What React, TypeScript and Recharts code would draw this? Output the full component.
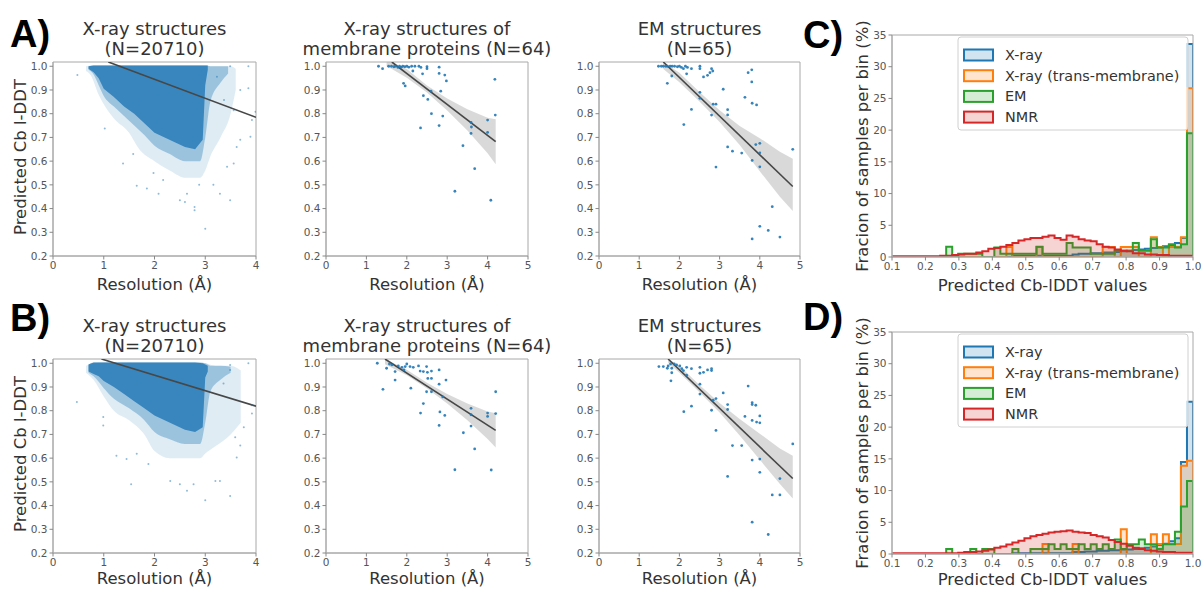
import React from 'react';
import { ComposedChart, Scatter, Line, Area, XAxis, YAxis, ReferenceArea } from 'recharts';

const FONT = '"DejaVu Sans", Verdana, sans-serif';
const BLUE = '#1f77b4';
const ORANGE = '#ff7f0e';
const GREEN = '#2ca02c';
const RED = '#d62728';
const TEXT = '#333';

// ---------- axis ticks ----------
const resTicks4 = [0, 1, 2, 3, 4];
const resTicks5 = [0, 1, 2, 3, 4, 5];
const lddtTicks = [0.2, 0.3, 0.4, 0.5, 0.6, 0.7, 0.8, 0.9, 1.0];
const histXTicks = [0.1, 0.2, 0.3, 0.4, 0.5, 0.6, 0.7, 0.8, 0.9, 1.0];
const histYTicks = [0, 5, 10, 15, 20, 25, 30, 35];

// ---------- X-ray (N=20710): dense cloud outlines [x, low, high] + sparse outliers ----------
const xrayCoreA = [
  [0.7, 0.99, 1.0], [0.8, 0.975, 1.003], [0.9, 0.95, 1.003], [1.0, 0.905, 1.003], [1.2, 0.87, 1.003],
  [1.4, 0.83, 1.003], [1.6, 0.8, 1.003], [1.8, 0.76, 1.003], [2.0, 0.72, 1.003], [2.2, 0.7, 1.003],
  [2.4, 0.68, 1.003], [2.6, 0.66, 1.003], [2.8, 0.65, 1.003], [2.95, 0.69, 1.003], [3.0, 0.92, 1.003],
  [3.05, 0.985, 1.003],
];
const xrayMidA = [
  [0.7, 0.985, 1.0], [0.8, 0.965, 1.003], [0.9, 0.92, 1.003], [1.0, 0.875, 1.003], [1.2, 0.83, 1.003],
  [1.4, 0.79, 1.003], [1.6, 0.75, 1.003], [1.8, 0.71, 1.003], [2.0, 0.665, 1.003], [2.3, 0.63, 1.003],
  [2.6, 0.6, 1.003], [2.9, 0.6, 1.003], [3.0, 0.7, 1.003], [3.1, 0.85, 1.0], [3.3, 0.93, 1.0], [3.45, 0.97, 1.0],
];
const xrayFringeA = [
  [0.65, 0.98, 1.0], [0.75, 0.96, 1.003], [0.9, 0.88, 1.003], [1.0, 0.84, 1.003], [1.2, 0.78, 1.003],
  [1.5, 0.72, 1.003], [1.7, 0.65, 1.003], [2.0, 0.6, 1.003], [2.3, 0.56, 1.003], [2.6, 0.53, 1.003],
  [2.9, 0.53, 1.003], [3.0, 0.56, 1.003], [3.1, 0.62, 1.0], [3.3, 0.7, 1.0], [3.5, 0.8, 1.0], [3.6, 0.9, 0.99],
];
const xrayOutliersA = [
  [0.48, 0.963], [1.02, 0.738], [1.38, 0.59], [1.58, 0.63], [1.65, 0.496], [1.85, 0.485], [1.98, 0.55],
  [2.08, 0.463], [2.17, 0.52], [2.5, 0.435], [2.6, 0.428], [2.79, 0.393], [2.79, 0.407], [3.0, 0.315],
  [2.88, 0.5], [2.64, 0.463], [3.16, 0.5], [3.29, 0.463], [3.49, 0.435], [3.43, 0.576], [3.56, 0.59],
  [3.62, 0.66], [3.69, 0.69], [3.69, 0.9], [3.85, 0.907], [3.85, 1.0], [3.49, 1.0], [3.92, 0.773],
  [3.89, 0.703], [3.99, 0.808], [3.37, 0.858], [3.23, 0.956], [3.56, 0.815],
];
const xrayFitA = [[1.09, 1.018], [4.0, 0.785]];

const xrayCoreB = [
  [0.7, 0.965, 0.995], [0.8, 0.955, 1.003], [0.9, 0.945, 1.003], [1.0, 0.925, 1.003], [1.2, 0.9, 1.003],
  [1.4, 0.87, 1.003], [1.6, 0.84, 1.003], [1.8, 0.81, 1.003], [2.0, 0.78, 1.003], [2.2, 0.76, 1.003],
  [2.4, 0.74, 1.003], [2.6, 0.72, 1.003], [2.8, 0.71, 1.003], [2.95, 0.73, 1.0], [3.0, 0.94, 0.995],
  [3.05, 0.965, 0.99],
];
const xrayMidB = [
  [0.7, 0.96, 0.995], [0.8, 0.945, 1.003], [1.0, 0.895, 1.003], [1.2, 0.85, 1.003], [1.5, 0.81, 1.003],
  [1.8, 0.76, 1.003], [2.0, 0.71, 1.003], [2.3, 0.68, 1.003], [2.6, 0.66, 1.003], [2.9, 0.66, 1.003],
  [3.0, 0.75, 1.0], [3.1, 0.88, 0.99], [3.3, 0.93, 0.99], [3.5, 0.96, 0.985],
];
const xrayFringeB = [
  [0.65, 0.96, 0.99], [0.8, 0.93, 1.0], [1.0, 0.86, 1.003], [1.2, 0.8, 1.003], [1.5, 0.76, 1.003],
  [1.8, 0.7, 1.003], [2.0, 0.63, 1.003], [2.3, 0.6, 1.003], [2.6, 0.6, 1.003], [2.9, 0.6, 1.003],
  [3.0, 0.62, 1.0], [3.2, 0.65, 0.99], [3.5, 0.7, 0.99], [3.7, 0.75, 0.97],
];
const xrayOutliersB = [
  [0.47, 0.837], [0.99, 0.773], [0.99, 0.738], [1.25, 0.61], [1.54, 0.49], [1.45, 0.596], [1.65, 0.618],
  [1.88, 0.575], [2.31, 0.504], [2.5, 0.49], [2.64, 0.462], [2.77, 0.49], [3.0, 0.422], [3.2, 0.504],
  [3.29, 0.504], [3.49, 0.44], [3.49, 0.972], [3.49, 0.993], [3.85, 1.0], [3.92, 0.823], [3.92, 0.788],
  [3.59, 0.688], [3.69, 0.653], [3.62, 0.603], [3.36, 0.915], [3.76, 0.73],
];
const xrayFitB = [[0.955, 1.018], [4.0, 0.819]];

// ---------- X-ray membrane proteins (N=64) ----------
const memPointsA = [
  [1.3, 1.0], [1.4, 0.99], [1.55, 1.0], [1.62, 1.0], [1.68, 0.998], [1.72, 1.0], [1.78, 0.995], [1.82, 1.0],
  [1.86, 0.996], [1.9, 1.0], [1.95, 0.998], [2.0, 1.0], [2.05, 0.996], [2.12, 1.0], [2.2, 1.0], [2.3, 1.0],
  [2.35, 0.995], [2.5, 0.998], [2.5, 0.99], [2.8, 0.996], [2.8, 0.97], [2.94, 0.963], [2.98, 0.938],
  [2.39, 0.968], [2.15, 0.98], [1.92, 0.928], [1.96, 0.917], [2.52, 0.86], [2.41, 0.876], [2.6, 0.895],
  [2.84, 0.895], [2.61, 0.8], [2.89, 0.79], [2.34, 0.74], [2.8, 0.75], [3.59, 0.763], [3.6, 0.744],
  [3.59, 0.717], [4.0, 0.773], [4.0, 0.721], [4.18, 0.945], [4.19, 0.794], [3.39, 0.665], [3.68, 0.568],
  [3.19, 0.473], [4.08, 0.435],
];
const memFitA = [[1.63, 1.018], [4.2, 0.682]];
const memCiXA = [1.5, 1.63, 2.0, 2.5, 3.0, 3.5, 4.0, 4.2];
const memCiLoA = [1.0, 0.988, 0.952, 0.889, 0.814, 0.729, 0.633, 0.587];
const memCiHiA = [1.018, 1.018, 0.988, 0.919, 0.864, 0.819, 0.783, 0.777];

const memPointsB = [
  [1.27, 1.0], [1.41, 0.89], [1.5, 0.979], [1.57, 0.997], [1.63, 0.993], [1.71, 0.929], [1.71, 0.965],
  [1.79, 0.989], [1.88, 0.983], [1.93, 0.972], [1.96, 0.986], [2.0, 0.997], [2.08, 0.986], [2.1, 0.895],
  [2.16, 0.983], [2.29, 0.989], [2.33, 0.967], [2.41, 0.965], [2.49, 0.986], [2.51, 0.962], [2.52, 0.936],
  [2.61, 0.936], [2.61, 0.967], [2.49, 0.88], [2.61, 0.88], [2.8, 0.972], [2.8, 0.912], [2.97, 0.929],
  [2.89, 0.858], [2.82, 0.795], [2.94, 0.78], [2.41, 0.83], [2.34, 0.79], [2.8, 0.738], [3.4, 0.707],
  [3.59, 0.81], [3.59, 0.783], [3.59, 0.735], [3.68, 0.639], [4.0, 0.79], [4.0, 0.776], [4.2, 0.88],
  [4.2, 0.788], [3.19, 0.551], [4.09, 0.55],
];
const memFitB = [[1.46, 1.018], [4.2, 0.717]];
const memCiXB = [1.46, 2.0, 2.5, 3.0, 3.5, 4.0, 4.2];
const memCiLoB = [0.996, 0.949, 0.894, 0.83, 0.76, 0.681, 0.645];
const memCiHiB = [1.018, 0.973, 0.918, 0.87, 0.83, 0.797, 0.789];

// ---------- EM structures (N=65) ----------
const emPointsA = [
  [1.48, 1.0], [1.55, 1.0], [1.6, 1.0], [1.66, 1.0], [1.7, 1.0], [1.77, 1.0], [1.82, 1.0], [1.88, 1.0],
  [1.95, 0.998], [2.0, 1.0], [2.05, 0.995], [2.1, 0.99], [2.15, 1.0], [2.2, 0.995], [2.3, 0.99],
  [1.7, 0.928], [1.81, 0.959], [2.18, 0.968], [2.51, 1.0], [2.51, 0.99], [2.6, 0.955], [2.7, 0.962],
  [2.76, 0.973], [2.8, 0.99], [2.83, 0.98], [2.51, 0.89], [2.51, 0.865], [2.3, 0.818], [2.11, 0.754],
  [2.8, 0.794], [2.84, 0.84], [2.91, 0.84], [3.09, 0.903], [3.2, 0.817], [3.2, 0.795], [3.2, 0.66],
  [3.32, 0.642], [3.55, 0.634], [2.91, 0.575], [3.63, 0.869], [3.71, 0.973], [3.8, 0.985], [3.8, 0.934],
  [3.81, 0.844], [3.92, 0.837], [3.9, 0.67], [4.0, 0.675], [4.0, 0.635], [3.81, 0.603], [4.0, 0.576],
  [4.0, 0.325], [3.81, 0.272], [4.21, 0.308], [4.31, 0.408], [4.5, 0.28], [4.82, 0.65],
];
const emFitA = [[1.6, 1.018], [4.82, 0.493]];
const emCiXA = [1.6, 2.0, 2.5, 3.0, 3.5, 4.0, 4.5, 4.82];
const emCiLoA = [0.988, 0.933, 0.851, 0.765, 0.668, 0.557, 0.45, 0.39];
const emCiHiA = [1.018, 0.973, 0.891, 0.815, 0.748, 0.697, 0.64, 0.61];

const emPointsB = [
  [1.49, 0.986], [1.6, 0.986], [1.7, 0.979], [1.72, 0.989], [1.78, 0.997], [1.81, 0.979], [1.81, 0.96],
  [1.79, 0.926], [1.87, 0.997], [1.93, 0.993], [2.01, 0.989], [2.06, 0.977], [2.1, 0.969], [2.18, 0.983],
  [2.18, 0.95], [2.3, 0.977], [2.51, 0.983], [2.51, 0.958], [2.6, 0.962], [2.7, 0.972], [2.8, 0.977],
  [2.8, 0.969], [2.51, 0.912], [2.51, 0.87], [2.3, 0.819], [2.11, 0.796], [2.8, 0.802], [2.84, 0.844],
  [2.91, 0.851], [2.91, 0.717], [3.09, 0.875], [3.2, 0.826], [3.2, 0.805], [3.32, 0.653], [3.55, 0.653],
  [3.63, 0.776], [3.2, 0.523], [3.71, 0.904], [3.81, 0.834], [3.81, 0.826], [3.9, 0.823], [3.81, 0.759],
  [3.92, 0.752], [4.0, 0.778], [4.0, 0.749], [3.81, 0.592], [4.0, 0.596], [4.0, 0.54], [3.81, 0.33],
  [4.21, 0.278], [4.31, 0.445], [4.5, 0.445], [4.5, 0.514], [4.82, 0.66],
];
const emFitB = [[1.72, 1.018], [4.82, 0.514]];
const emCiXB = [1.72, 2.0, 2.5, 3.0, 3.5, 4.0, 4.5, 4.82];
const emCiLoB = [1.001, 0.96, 0.878, 0.792, 0.695, 0.593, 0.491, 0.43];
const emCiHiB = [1.018, 0.99, 0.908, 0.832, 0.765, 0.703, 0.641, 0.61];

// ---------- histograms: bin left edges and % per bin ----------
const binEdges = [
  0.1, 0.118, 0.136, 0.154, 0.172, 0.19, 0.208, 0.226, 0.244, 0.262,
  0.28, 0.298, 0.316, 0.334, 0.352, 0.37, 0.388, 0.406, 0.424, 0.442,
  0.46, 0.478, 0.496, 0.514, 0.532, 0.55, 0.568, 0.586, 0.604, 0.622,
  0.64, 0.658, 0.676, 0.694, 0.712, 0.73, 0.748, 0.766, 0.784, 0.802,
  0.82, 0.838, 0.856, 0.874, 0.892, 0.91, 0.928, 0.946, 0.964, 0.982,
];

const histC_xray = [
  0, 0, 0, 0, 0, 0, 0, 0, 0, 0,
  0, 0, 0, 0, 0, 0, 0, 0, 0, 0,
  0.2, 0.2, 0.2, 0.2, 0.2, 0.2, 0.2, 0.2, 0.2, 0.2,
  0.4, 0.5, 0.5, 0.6, 0.6, 0.7, 0.7, 0.8, 0.9, 1.0,
  1.1, 1.2, 1.3, 1.4, 1.5, 1.7, 1.9, 2.2, 3.0, 33.6,
];
const histC_tm = [
  0, 0, 0, 0, 0, 0, 0, 0, 0, 0,
  0, 0, 0, 0, 0, 0, 0, 0, 0, 1.56,
  0, 0, 0, 0, 1.56, 0, 0, 0, 0, 0,
  0, 0, 0, 0, 0, 1.56, 1.56, 0, 1.56, 1.56,
  1.56, 0, 0, 3.1, 1.56, 0, 1.56, 1.56, 3.1, 26.6,
];
const histC_em = [
  0, 0, 0, 0, 0, 0, 0, 0, 0, 1.6,
  0, 0.5, 0.5, 0.5, 0.5, 0, 0, 1.5, 0.5, 0.5,
  0.5, 0.5, 0.5, 0.5, 1.6, 0.5, 0.5, 0.5, 0.5, 2.2,
  1.5, 1.5, 1.5, 0.5, 0.5, 0.5, 0.5, 1.0, 1.0, 1.0,
  2.2, 1.0, 1.0, 2.8, 1.5, 1.5, 2.0, 1.5, 2.0, 19.5,
];
const histC_nmr = [
  0.1, 0.1, 0.1, 0.1, 0.1, 0.1, 0.1, 0.1, 0.2, 0.2,
  0.3, 0.4, 0.5, 0.5, 0.7, 0.9, 1.3, 1.4, 1.6, 1.9,
  2.2, 2.6, 2.8, 3.0, 3.0, 3.2, 3.4, 3.0, 2.7, 3.4,
  3.2, 2.8, 2.6, 2.5, 2.0, 1.6, 1.5, 1.2, 1.0, 0.9,
  0.6, 0.6, 0.4, 0.4, 0.3, 0.3, 0.2, 0.2, 0.2, 0.2,
];

const histD_xray = [
  0, 0, 0, 0, 0, 0, 0, 0, 0, 0,
  0, 0, 0, 0, 0, 0, 0, 0, 0, 0,
  0.1, 0.1, 0.1, 0.1, 0.1, 0.1, 0.1, 0.1, 0.1, 0.1,
  0.3, 0.3, 0.4, 0.4, 0.5, 0.5, 0.6, 0.6, 0.7, 0.7,
  0.8, 0.9, 1.0, 1.2, 1.4, 1.6, 2.0, 2.5, 14.5, 24.0,
];
const histD_tm = [
  0, 0, 0, 0, 0, 0, 0, 0, 0, 0,
  0, 0, 0, 0, 0, 0, 0, 0, 0, 0,
  0, 0, 0, 0, 0, 1.56, 0, 0, 0, 0,
  1.56, 0, 0, 0, 0, 0, 0, 0, 3.9, 0,
  0, 0, 0, 3.1, 1.56, 3.1, 1.56, 1.56, 13.9, 14.7,
];
const histD_em = [
  0, 0, 0, 0, 0, 0, 0, 0, 0, 0.77,
  0, 0, 0, 0.77, 0, 0.77, 0.77, 0, 0, 0,
  0.77, 0, 0, 0.77, 0.77, 0.77, 1.54, 0.77, 1.54, 0.77,
  0.77, 1.54, 0.77, 1.54, 0.77, 1.54, 0.77, 2.3, 0.77, 1.54,
  1.54, 2.3, 1.54, 1.54, 0.77, 1.54, 1.54, 3.5, 7.5, 11.5,
];
const histD_nmr = [
  0.1, 0.1, 0.1, 0.1, 0.1, 0.1, 0.1, 0.1, 0.1, 0.1,
  0.1, 0.2, 0.3, 0.3, 0.4, 0.5, 0.7, 1.0, 1.2, 1.5,
  1.8, 2.1, 2.5, 2.8, 3.0, 3.2, 3.4, 3.5, 3.6, 3.7,
  3.5, 3.4, 3.3, 3.0, 2.8, 2.6, 2.2, 1.9, 1.6, 1.3,
  1.0, 0.8, 0.6, 0.5, 0.4, 0.3, 0.3, 0.2, 0.2, 0.2,
];

const legendItems = [
  { label: 'X-ray', color: BLUE },
  { label: 'X-ray (trans-membrane)', color: ORANGE },
  { label: 'EM', color: GREEN },
  { label: 'NMR', color: RED },
];

// ---------- layout ----------
const ROW = 297;
const tickStyle = { fontSize: 10.5, fill: '#555', fontFamily: FONT };

type Box = { L: number; T: number; R: number; B: number };

const pairRows = (arr: number[][]) => arr.map(([x, y]) => ({ x, y }));
const rangeRows = (arr: number[][], key: string) => arr.map(([x, lo, hi]) => ({ x, [key]: [lo, hi] }));

function ScatterPanel(props: {
  box: Box;
  xMax: number;
  xTicks: number[];
  points: number[][];
  fit: number[][];
  dotR: number;
  dotOpacity: number;
  core?: number[][];
  mid?: number[][];
  fringe?: number[][];
  ciX?: number[];
  ciLo?: number[];
  ciHi?: number[];
}) {
  const { box, xMax, xTicks, points, fit, dotR, dotOpacity, core, mid, fringe, ciX, ciLo, ciHi } = props;
  const bandRows = ciX ? ciX.map((x, i) => ({ x, band: [ciLo![i], ciHi![i]] })) : null;
  const dot = (p: any) => <circle cx={p.cx} cy={p.cy} r={dotR} fill={BLUE} fillOpacity={dotOpacity} />;
  return (
    <div style={{ position: 'absolute', left: box.L - 50, top: box.T - 6 }}>
      <ComposedChart width={box.R - box.L + 60} height={box.B - box.T + 36} margin={{ top: 6, right: 10, left: 0, bottom: 0 }}>
        <XAxis type="number" dataKey="x" domain={[0, xMax]} ticks={xTicks} interval={0} allowDataOverflow
          height={30} tickSize={3.5} tick={tickStyle} tickLine={{ stroke: '#888' }} axisLine={{ stroke: '#a8a8a8' }} />
        <YAxis type="number" dataKey="y" domain={[0.2, 1.018]} ticks={lddtTicks} interval={0} allowDataOverflow
          width={50} tickSize={3.5} tick={tickStyle} tickFormatter={(v: number) => v.toFixed(1)}
          tickLine={{ stroke: '#888' }} axisLine={{ stroke: '#a8a8a8' }} />
        {fringe && (
          <Area data={rangeRows(fringe, 'fringe')} dataKey="fringe" type="monotone" stroke="none"
            fill={BLUE} fillOpacity={0.14} isAnimationActive={false} />
        )}
        {mid && (
          <Area data={rangeRows(mid, 'mid')} dataKey="mid" type="monotone" stroke="none"
            fill={BLUE} fillOpacity={0.35} isAnimationActive={false} />
        )}
        {core && (
          <Area data={rangeRows(core, 'core')} dataKey="core" type="linear" stroke="none"
            fill={BLUE} fillOpacity={0.8} isAnimationActive={false} />
        )}
        {bandRows && (
          <Area data={bandRows} dataKey="band" type="linear" stroke="none"
            fill="#c4c4c4" fillOpacity={0.65} isAnimationActive={false} />
        )}
        <Scatter data={pairRows(points)} dataKey="y" shape={dot} isAnimationActive={false} />
        <Line data={pairRows(fit)} dataKey="y" type="linear" stroke="#474747" strokeWidth={1.6}
          dot={false} isAnimationActive={false} />
        <ReferenceArea x1={0} x2={xMax} y1={0.2} y2={1.018} fill="none" stroke="#a8a8a8" ifOverflow="visible" />
      </ComposedChart>
    </div>
  );
}

function HistPanel(props: { box: Box; xray: number[]; tm: number[]; em: number[]; nmr: number[] }) {
  const { box, xray, tm, em, nmr } = props;
  const rows = binEdges
    .map((x, i) => ({ x, xray: xray[i], tm: tm[i], em: em[i], nmr: nmr[i] }))
    .concat([{ x: 1.0, xray: 0, tm: 0, em: 0, nmr: 0 }]);
  const series = [
    { key: 'xray', color: BLUE },
    { key: 'tm', color: ORANGE },
    { key: 'em', color: GREEN },
    { key: 'nmr', color: RED },
  ];
  return (
    <div style={{ position: 'absolute', left: box.L - 50, top: box.T - 6 }}>
      <ComposedChart width={box.R - box.L + 60} height={box.B - box.T + 36} data={rows}
        margin={{ top: 6, right: 10, left: 0, bottom: 0 }}>
        <XAxis type="number" dataKey="x" domain={[0.1, 1.0]} ticks={histXTicks} interval={0} allowDataOverflow
          height={30} tickSize={3.5} tick={tickStyle} tickFormatter={(v: number) => v.toFixed(1)}
          tickLine={{ stroke: '#888' }} axisLine={{ stroke: '#a8a8a8' }} />
        <YAxis type="number" domain={[0, 35]} ticks={histYTicks} interval={0} allowDataOverflow
          width={50} tickSize={3.5} tick={tickStyle} tickLine={{ stroke: '#888' }} axisLine={{ stroke: '#a8a8a8' }} />
        {series.map((s) => (
          <Area key={s.key} dataKey={s.key} type="stepAfter" stroke={s.color} strokeWidth={2}
            fill={s.color} fillOpacity={0.2} isAnimationActive={false} />
        ))}
        <ReferenceArea x1={0.1} x2={1.0} y1={0} y2={35} fill="none" stroke="#a8a8a8" ifOverflow="visible" />
      </ComposedChart>
    </div>
  );
}

const scatterBoxes: Box[] = [
  { L: 53, T: 62, R: 256, B: 256 },
  { L: 326, T: 62, R: 528, B: 256 },
  { L: 599, T: 62, R: 800, B: 256 },
];
const histBox: Box = { L: 892, T: 35, R: 1193, B: 257 };
const down = (b: Box): Box => ({ L: b.L, R: b.R, T: b.T + ROW, B: b.B + ROW });
const centre = (b: Box) => (b.L + b.R) / 2;

function Legend({ dy }: { dy: number }) {
  return (
    <g>
      <rect x={958} y={37 + dy} width={230} height={93} rx={3} fill="#fff" fillOpacity={0.8} stroke="#d0d0d0" />
      {legendItems.map((it, i) => {
        const cy = 55 + dy + i * 20.7;
        return (
          <g key={it.label}>
            <rect x={964} y={cy - 5.5} width={29} height={11} fill={it.color} fillOpacity={0.2} stroke={it.color} strokeWidth={2} />
            <text x={1005} y={cy + 5} fontSize={14.4} fill={TEXT} fontFamily={FONT}>{it.label}</text>
          </g>
        );
      })}
    </g>
  );
}

function Labels() {
  const titles = [
    ['X-ray structures', '(N=20710)'],
    ['X-ray structures of', 'membrane proteins (N=64)'],
    ['EM structures', '(N=65)'],
  ];
  const txt = { fill: TEXT, fontFamily: FONT } as const;
  const letter = { fontFamily: '"Liberation Sans", Arial, sans-serif', fontWeight: 700, fontSize: 38, fill: '#000' } as const;
  return (
    <svg width={1202} height={589} style={{ position: 'absolute', left: 0, top: 0, pointerEvents: 'none' }}>
      {[0, ROW].map((dy) => (
        <g key={dy}>
          {scatterBoxes.map((b, i) => (
            <g key={i}>
              <text x={centre(b)} y={35 + dy} textAnchor="middle" fontSize={18} {...txt}>{titles[i][0]}</text>
              <text x={centre(b)} y={55 + dy} textAnchor="middle" fontSize={18} {...txt}>{titles[i][1]}</text>
              <text x={centre(b)} y={(dy ? 287 : 290) + dy} textAnchor="middle" fontSize={16.5} {...txt}>Resolution (Å)</text>
            </g>
          ))}
          <text transform={`translate(26,${157 + dy}) rotate(-90)`} textAnchor="middle" fontSize={16.5} {...txt}>
            Predicted Cb l-DDT
          </text>
          <text x={centre(histBox)} y={(dy ? 288 : 291) + dy} textAnchor="middle" fontSize={16.5} {...txt}>
            Predicted Cb-lDDT values
          </text>
          <text transform={`translate(868,${146 + dy}) rotate(-90)`} textAnchor="middle" fontSize={16.5} {...txt}>
            Fracion of samples per bin (%)
          </text>
          <Legend dy={dy} />
        </g>
      ))}
      <text x={10} y={47} {...letter}>A)</text>
      <text x={10} y={331} {...letter}>B)</text>
      <text x={803} y={48} {...letter}>C)</text>
      <text x={803} y={330} {...letter}>D)</text>
    </svg>
  );
}

export default function App() {
  return (
    <div style={{ position: 'absolute', left: 0, top: 0, width: 1202, height: 589, background: '#fff', overflow: 'hidden' }}>
      <ScatterPanel box={scatterBoxes[0]} xMax={4} xTicks={resTicks4} points={xrayOutliersA} fit={xrayFitA}
        dotR={1} dotOpacity={0.5} core={xrayCoreA} mid={xrayMidA} fringe={xrayFringeA} />
      <ScatterPanel box={scatterBoxes[1]} xMax={5} xTicks={resTicks5} points={memPointsA} fit={memFitA}
        dotR={1.4} dotOpacity={0.9} ciX={memCiXA} ciLo={memCiLoA} ciHi={memCiHiA} />
      <ScatterPanel box={scatterBoxes[2]} xMax={5} xTicks={resTicks5} points={emPointsA} fit={emFitA}
        dotR={1.4} dotOpacity={0.9} ciX={emCiXA} ciLo={emCiLoA} ciHi={emCiHiA} />
      <HistPanel box={histBox} xray={histC_xray} tm={histC_tm} em={histC_em} nmr={histC_nmr} />

      <ScatterPanel box={down(scatterBoxes[0])} xMax={4} xTicks={resTicks4} points={xrayOutliersB} fit={xrayFitB}
        dotR={1} dotOpacity={0.5} core={xrayCoreB} mid={xrayMidB} fringe={xrayFringeB} />
      <ScatterPanel box={down(scatterBoxes[1])} xMax={5} xTicks={resTicks5} points={memPointsB} fit={memFitB}
        dotR={1.4} dotOpacity={0.9} ciX={memCiXB} ciLo={memCiLoB} ciHi={memCiHiB} />
      <ScatterPanel box={down(scatterBoxes[2])} xMax={5} xTicks={resTicks5} points={emPointsB} fit={emFitB}
        dotR={1.4} dotOpacity={0.9} ciX={emCiXB} ciLo={emCiLoB} ciHi={emCiHiB} />
      <HistPanel box={down(histBox)} xray={histD_xray} tm={histD_tm} em={histD_em} nmr={histD_nmr} />

      <Labels />
    </div>
  );
}
